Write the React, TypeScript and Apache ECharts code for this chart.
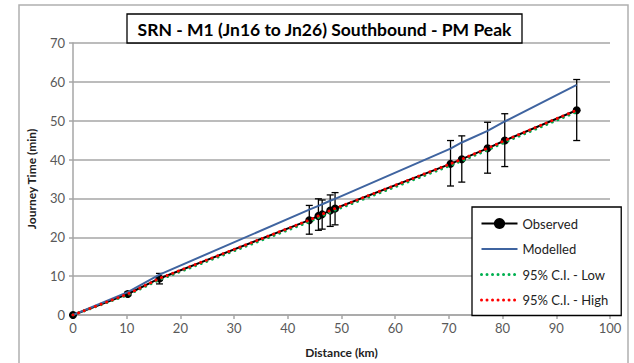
import React, { useEffect, useRef } from "react";
import * as echarts from "echarts";

const distances = [0, 10.2, 16.1, 44.0, 45.7, 46.4, 47.9, 48.8, 70.3, 72.4, 77.2, 80.4, 93.8];
const observed = [0, 5.4, 9.4, 24.4, 25.5, 25.9, 26.9, 27.4, 38.9, 40.1, 42.9, 44.9, 52.7];
const observedLow = [0, 5.0, 8.0, 20.8, 21.8, 22.1, 22.8, 23.2, 33.2, 34.2, 36.5, 38.2, 44.9];
const observedHigh = [0, 5.9, 10.7, 28.2, 29.9, 29.6, 30.9, 31.5, 44.9, 46.1, 49.6, 51.8, 60.6];
const modelled = [0, 5.9, 10.4, 27.1, 28.1, 28.5, 29.4, 29.9, 42.8, 44.4, 47.4, 49.8, 59.2];
const ciLow = [0, 5.2, 9.1, 24.0, 25.1, 25.5, 26.5, 27.0, 38.5, 39.7, 42.5, 44.5, 52.3];
const ciHigh = [0, 5.4, 9.4, 24.4, 25.5, 25.9, 26.9, 27.4, 38.9, 40.1, 42.9, 44.9, 52.7];

const xTicks = { min: 0, max: 100, interval: 10 };
const yTicks = { min: 0, max: 70, interval: 10 };

const titleText = "SRN - M1 (Jn16 to Jn26) Southbound - PM Peak";
const FONT = "Lato, 'Open Sans', sans-serif";

const pairs = (ys: number[]) => distances.map((d, i) => [d, ys[i]]);

export default function App() {
  const ref = useRef<HTMLDivElement>(null);
  useEffect(() => {
    if (!ref.current) return;
    const chart = echarts.init(ref.current, null, { renderer: "svg" });
    const dotted = { type: [0.01, 6] as any, cap: "round" as any, width: 3 };
    const noSymbol = { opacity: 0 };
    chart.setOption({
      animation: false,
      backgroundColor: "#fff",
      textStyle: { fontFamily: FONT },
      grid: { left: 73, right: 24, top: 43, bottom: 40, containLabel: false },
      xAxis: {
        type: "value",
        ...xTicks,
        name: "Distance (km)",
        nameLocation: "middle",
        nameGap: 31,
        nameTextStyle: { fontFamily: FONT, fontWeight: "bold", fontSize: 12, color: "#222" },
        axisLine: { show: true, lineStyle: { color: "#a6a6a6", width: 1.5 } },
        axisTick: { show: true, length: 4, lineStyle: { color: "#a6a6a6", width: 1.5 } },
        axisLabel: { color: "#595959", fontSize: 13, fontFamily: FONT, margin: 6 },
        splitLine: { show: false },
      },
      yAxis: {
        type: "value",
        ...yTicks,
        name: "Journey Time (min)",
        nameLocation: "middle",
        nameGap: 36,
        nameTextStyle: { fontFamily: FONT, fontWeight: "bold", fontSize: 12, color: "#222" },
        axisLine: { show: true, lineStyle: { color: "#a6a6a6", width: 1.5 } },
        axisTick: { show: true, length: 4, lineStyle: { color: "#a6a6a6", width: 1.5 } },
        axisLabel: { color: "#595959", fontSize: 13, fontFamily: FONT, margin: 8 },
        splitLine: { show: true, lineStyle: { color: "#a6a6a6", width: 1.5 } },
      },
      legend: {
        orient: "vertical",
        left: 472,
        top: 207,
        padding: [10, 13, 9, 8],
        itemGap: 12.5,
        itemWidth: 36,
        itemHeight: 14,
        borderColor: "#000",
        borderWidth: 1.3,
        backgroundColor: "#fff",
        textStyle: { fontFamily: FONT, fontSize: 13, color: "#222" },
        data: [
          { name: "Observed" },
          { name: "Modelled", itemStyle: noSymbol },
          { name: "95% C.I. - Low", itemStyle: noSymbol, lineStyle: { type: [0.01, 5.5], cap: "round", width: 3 } },
          { name: "95% C.I. - High", itemStyle: noSymbol, lineStyle: { type: [0.01, 5.5], cap: "round", width: 3 } },
        ],
      },
      series: [
        {
          type: "custom",
          name: "errors",
          data: distances.map((d, i) => [d, observedLow[i], observedHigh[i]]),
          encode: { x: 0, y: [1, 2] },
          z: 2,
          renderItem: (params: any, api: any) => {
            const x = api.value(0);
            const lo = api.coord([x, api.value(1)]);
            const hi = api.coord([x, api.value(2)]);
            const hw = 3.5;
            const style = { stroke: "#000", lineWidth: 1.3 };
            return {
              type: "group",
              children: [
                { type: "line", shape: { x1: lo[0], y1: lo[1], x2: hi[0], y2: hi[1] }, style },
                { type: "line", shape: { x1: lo[0] - hw, y1: lo[1], x2: lo[0] + hw, y2: lo[1] }, style },
                { type: "line", shape: { x1: hi[0] - hw, y1: hi[1], x2: hi[0] + hw, y2: hi[1] }, style },
              ],
            };
          },
        },
        {
          type: "line",
          name: "Observed",
          data: pairs(observed),
          color: "#000",
          symbol: "circle",
          symbolSize: 8,
          itemStyle: { color: "#000" },
          lineStyle: { color: "#000", width: 2 },
          z: 3,
        },
        {
          type: "line",
          name: "Modelled",
          data: pairs(modelled),
          color: "#3f64a0",
          symbol: "none",
          lineStyle: { color: "#3f64a0", width: 2 },
          z: 4,
        },
        {
          type: "line",
          name: "95% C.I. - Low",
          data: pairs(ciLow),
          color: "#00b050",
          symbol: "none",
          lineStyle: { ...dotted, color: "#00b050" },
          z: 5,
        },
        {
          type: "line",
          name: "95% C.I. - High",
          data: pairs(ciHigh),
          color: "#ff0000",
          symbol: "none",
          lineStyle: { ...dotted, color: "#ff0000" },
          z: 6,
        },
      ],
      graphic: [
        {
          type: "rect",
          shape: { x: 19, y: 5, width: 609, height: 400 },
          style: { fill: "none", stroke: "#b0b0b0", lineWidth: 1.5 },
          silent: true,
          z: 0,
        },
        {
          type: "rect",
          shape: { x: 127, y: 14, width: 395, height: 29 },
          style: { fill: "#fff", stroke: "#000", lineWidth: 1.3 },
          z: 10,
        },
        {
          type: "text",
          x: 324.5,
          y: 29,
          z: 11,
          style: {
            text: titleText,
            fontFamily: FONT,
            fontWeight: "bold",
            fontSize: 17.5,
            fill: "#000",
            align: "center",
            verticalAlign: "middle",
          },
        },
      ],
    });
    return () => chart.dispose();
  }, []);
  return (
    <div
      ref={ref}
      style={{ position: "absolute", left: 0, top: 0, width: 634, height: 363 }}
    />
  );
}
